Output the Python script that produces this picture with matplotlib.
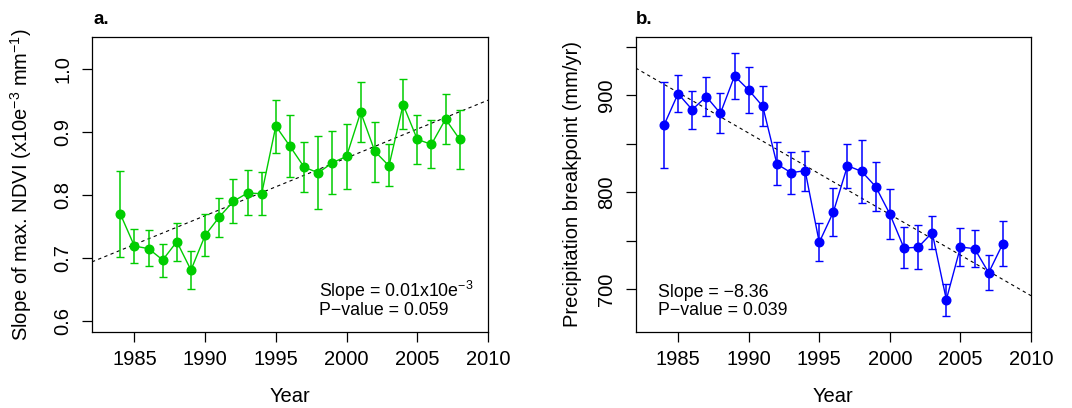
import numpy as np
import matplotlib
matplotlib.use('Agg')
import matplotlib.pyplot as plt

plt.rcParams['font.family'] = ['Liberation Sans', 'DejaVu Sans']
plt.rcParams['mathtext.fontset'] = 'custom'
plt.rcParams['mathtext.rm'] = 'Liberation Sans'
plt.rcParams['mathtext.it'] = 'Liberation Sans:italic'

years = list(range(1984, 2009))

# panel a: slope of max NDVI
ndvi = [0.770, 0.719, 0.715, 0.697, 0.726, 0.681, 0.736, 0.765, 0.790, 0.803, 0.802,
        0.909, 0.877, 0.844, 0.835, 0.851, 0.861, 0.931, 0.869, 0.846, 0.943,
        0.888, 0.880, 0.920, 0.888]
ndvi_hi = [0.838, 0.746, 0.744, 0.722, 0.756, 0.711, 0.770, 0.795, 0.825, 0.840, 0.836,
           0.951, 0.927, 0.884, 0.894, 0.901, 0.912, 0.978, 0.916, 0.880, 0.983,
           0.927, 0.918, 0.960, 0.935]
ndvi_lo = [0.702, 0.693, 0.688, 0.670, 0.696, 0.651, 0.704, 0.734, 0.755, 0.768, 0.769,
           0.867, 0.828, 0.804, 0.777, 0.802, 0.809, 0.883, 0.821, 0.814, 0.904,
           0.849, 0.842, 0.880, 0.841]
ndvi_trend = [0.694, 0.950]  # at 1982 and 2010

# panel b: precipitation breakpoint
precip = [868.7, 901.4, 884.9, 898.3, 881.1, 919.6, 905.2, 888.3, 828.9, 819.9, 822.0,
          748.1, 779.4, 827.1, 821.3, 805.5, 777.3, 742.3, 743.0, 758.1, 689.0,
          743.3, 741.6, 716.8, 746.7]
precip_hi = [913.0, 921.0, 904.5, 918.9, 902.4, 943.6, 928.9, 909.3, 851.5, 841.2, 841.9,
             768.4, 804.5, 849.8, 854.0, 831.3, 803.4, 763.6, 766.3, 775.3, 705.5,
             762.9, 760.8, 735.0, 769.8]
precip_lo = [824.7, 882.0, 864.6, 878.0, 860.5, 895.5, 881.8, 867.7, 806.9, 798.3, 801.4,
             728.5, 754.3, 804.5, 788.7, 780.0, 751.5, 721.3, 720.3, 740.9, 672.2,
             723.7, 722.7, 698.6, 724.1]
precip_trend = [927.8, 693.1]
trend_x = [1982, 2010]

FS = 14.5

fig = plt.figure(figsize=(10.72, 4.08), dpi=100)
ax1 = fig.add_axes([0.0858, 0.1863, 0.3694, 0.723])
ax2 = fig.add_axes([0.593, 0.1863, 0.3688, 0.723])


def panel(ax, y, lo, hi, trend, color):
    y = np.array(y)
    err = [y - np.array(lo), np.array(hi) - y]
    ax.errorbar(years, y, yerr=err, color=color, ecolor=color, lw=1.0,
                elinewidth=1.1, capsize=2.6, capthick=1.0, marker='o',
                markersize=6.2, zorder=3)
    ax.plot(trend_x, trend, color='black', ls=(0, (3, 3)), lw=0.8, zorder=2)
    ax.set_xlim(1982, 2010)
    ax.set_xticks([1985, 1990, 1995, 2000, 2005, 2010])
    ax.tick_params(direction='out', length=7, width=0.9, labelsize=FS, pad=6)
    ax.tick_params(axis='y', pad=7)
    for s in ax.spines.values():
        s.set_linewidth(0.9)
    ax.set_xlabel('Year', fontsize=FS)
    ax.xaxis.set_label_coords(0.5, -0.185)


def note(ax, x, lines):
    ax.text(x, 0.119, lines[0], transform=ax.transAxes, fontsize=12.8,
            va='baseline', ha='left')
    ax.text(x, 0.057, lines[1], transform=ax.transAxes, fontsize=12.8,
            va='baseline', ha='left')


panel(ax1, ndvi, ndvi_lo, ndvi_hi, ndvi_trend, '#00CD00')
ax1.set_ylim(0.583, 1.05)
ax1.set_yticks([0.6, 0.7, 0.8, 0.9, 1.0])
ax1.set_yticklabels(['0.6', '0.7', '0.8', '0.9', '1.0'], rotation=90, va='center')
ax1.set_ylabel('Slope of max. NDVI (x10e$^{-3}$ mm$^{-1}$)', fontsize=FS)
ax1.yaxis.set_label_coords(-0.146, 0.5)
note(ax1, 0.573, ['Slope = 0.01x10e$^{-3}$', 'P\u2212value = 0.059'])

panel(ax2, precip, precip_lo, precip_hi, precip_trend, '#0000FF')
ax2.set_ylim(655.7, 959.8)
ax2.set_yticks([700, 750, 800, 850, 900, 950])
ax2.set_yticklabels(['700', '', '800', '', '900', ''], rotation=90, va='center')
ax2.set_ylabel('Precipitation breakpoint (mm/yr)', fontsize=FS)
ax2.yaxis.set_label_coords(-0.136, 0.5)
note(ax2, 0.0557, ['Slope = \u22128.36', 'P\u2212value = 0.039'])

fig.text(0.0868, 0.941, 'a.', fontsize=13.5, fontweight='bold', va='baseline')
fig.text(0.593, 0.941, 'b.', fontsize=13.5, fontweight='bold', va='baseline')

fig.savefig('out.png', dpi=100)
